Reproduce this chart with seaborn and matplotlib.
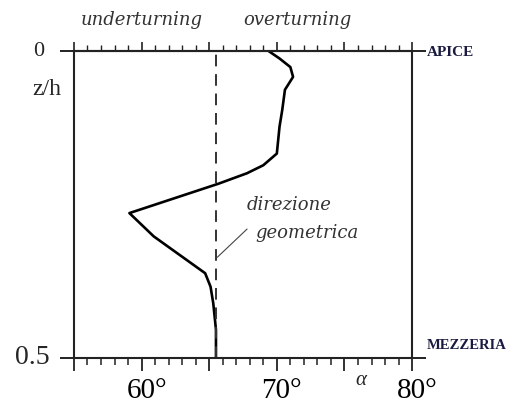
import numpy as np
import matplotlib
matplotlib.use("Agg")
import matplotlib.pyplot as plt
import matplotlib.transforms as mtransforms
from matplotlib.ticker import MultipleLocator, FixedLocator, FixedFormatter
import seaborn as sns

# twist angle profile (alpha in degrees vs z/h)
alpha = [69.4, 70.2, 71.0, 71.2, 70.6, 70.4, 70.2, 70.0, 69.0, 67.8, 65.7,
         59.1, 60.9, 64.7, 65.1, 65.3, 65.5, 65.5]
zh = [0.0, 0.012, 0.026, 0.042, 0.063, 0.096, 0.123, 0.167, 0.186, 0.199, 0.216,
      0.264, 0.302, 0.362, 0.384, 0.411, 0.454, 0.5]
alpha_geom = 65.5
xtick_vals = [55, 60, 65, 70, 75, 80]
xtick_text = ["", "60°", "", "70°", "", "80°"]

sns.set_style("ticks")
plt.rcParams["font.family"] = ["Liberation Serif", "DejaVu Serif"]

fig = plt.figure(figsize=(5.1, 4.09), dpi=100)
ax = fig.add_axes([0.145, 0.125, 0.663, 0.75])

sns.lineplot(x=alpha, y=zh, sort=False, estimator=None, color="black", lw=1.9, ax=ax)
ax.axvline(alpha_geom, color="#333333", lw=1.4, dashes=(6, 4))

ax.set_xlim(55, 80)
ax.set_ylim(0.5, 0)
ax.set_xlabel("")
ax.set_ylabel("")

for s in ax.spines.values():
    s.set_visible(True)
    s.set_linewidth(1.5)
    s.set_color("#222222")

# bottom axis
ax.xaxis.set_major_locator(FixedLocator(xtick_vals))
ax.xaxis.set_major_formatter(FixedFormatter(xtick_text))
ax.xaxis.set_minor_locator(MultipleLocator(1))
ax.tick_params(axis="x", which="major", direction="out", length=9.5, width=1.3,
               labelsize=21, pad=5, colors="#222222", labelcolor="black")
ax.tick_params(axis="x", which="minor", direction="out", length=5, width=1.1, colors="#222222")
shift = mtransforms.ScaledTranslation(5 / 100, 0, fig.dpi_scale_trans)
for lab in ax.get_xticklabels():
    lab.set_transform(lab.get_transform() + shift)

# top axis ticks
top = ax.secondary_xaxis("top")
top.xaxis.set_major_locator(FixedLocator(xtick_vals))
top.xaxis.set_minor_locator(MultipleLocator(1))
top.tick_params(axis="x", which="major", direction="out", length=6.5, width=1.2,
                labeltop=False, colors="#222222")
top.tick_params(axis="x", which="minor", direction="out", length=4.2, width=1.0, colors="#222222")
top.spines["top"].set_linewidth(1.5)

# left / right ticks, labels placed by hand
ax.set_yticks([0, 0.5])
ax.set_yticklabels([])
ax.tick_params(axis="y", direction="out", length=10, width=1.4, left=True, right=True,
               labelright=False, colors="#222222")
ax.annotate("0", xy=(-0.104, 0), xycoords=("axes fraction", "data"), fontsize=16,
            ha="center", va="center")
ax.annotate("0.5", xy=(-0.071, 0.5), xycoords=("axes fraction", "data"), fontsize=20,
            ha="right", va="center")

ax.text(-0.08, 0.876, "z/h", transform=ax.transAxes, fontsize=17, ha="center", va="center")
ax.text(0.849, -0.075, "α", transform=ax.transAxes, fontsize=15, style="italic",
        ha="center", va="center")

ital = dict(family="DejaVu Serif", style="italic", color="#333333", ha="center", va="center")
ax.text(0.2, 1.10, "underturning", transform=ax.transAxes, fontsize=13, **ital)
ax.text(0.66, 1.10, "overturning", transform=ax.transAxes, fontsize=13, **ital)
ax.text(1.044, 0.997, "APICE", transform=ax.transAxes, fontsize=11, weight="bold",
        ha="left", va="center", color="#1a1a40")
ax.text(1.044, 0.039, "MEZZERIA", transform=ax.transAxes, fontsize=10.5, weight="bold",
        ha="left", va="center", color="#1a1a40")

ax.text(70.9, 0.251, "direzione", fontsize=13, **ital)
ax.text(72.2, 0.297, "geometrica", fontsize=13, **ital)
ax.plot([67.8, 65.6], [0.290, 0.336], color="#444444", lw=0.8)

fig.savefig("out.png", dpi=100, facecolor="white")
